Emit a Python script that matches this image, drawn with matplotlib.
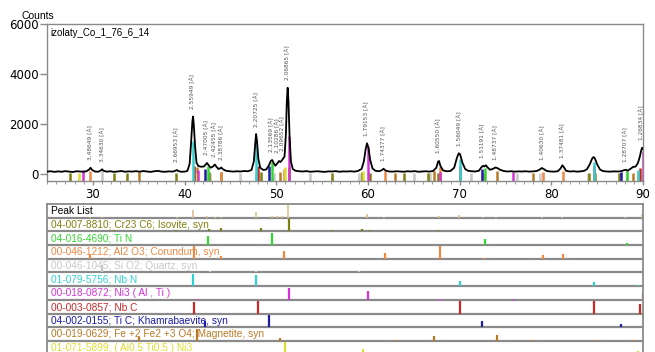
import matplotlib
matplotlib.use('Agg')
import matplotlib.pyplot as plt
from matplotlib.ticker import MultipleLocator

two_theta = [25.0, 25.4, 25.8, 26.2, 26.6, 27.0, 27.4, 27.8, 28.2, 28.6, 29.0, 29.3, 29.6, 29.75, 29.9,
             30.2, 30.6, 30.85, 31.0, 31.15, 31.5, 31.9, 32.3, 32.7, 33.1, 33.5, 33.9, 34.3, 34.7, 35.1,
             35.5, 35.9, 36.3, 36.7, 37.1, 37.5, 37.9, 38.3, 38.7, 39.0, 39.15, 39.3, 39.6, 40.0, 40.3,
             40.55, 40.7, 40.85, 40.92, 41.0, 41.15, 41.3, 41.5, 41.8, 42.1, 42.3, 42.45, 42.6, 42.85, 43.1,
             43.3, 43.45, 43.7, 43.9, 44.0, 44.15, 44.5, 44.9, 45.3, 45.7, 46.1, 46.5, 46.9, 47.3, 47.55,
             47.7, 47.8, 47.9, 48.05, 48.25, 48.6, 48.9, 49.2, 49.4, 49.55, 49.7, 49.9, 50.1, 50.3, 50.45,
             50.6, 50.75, 50.9, 51.05, 51.15, 51.24, 51.33, 51.45, 51.6, 51.8, 52.1, 52.5, 52.9, 53.3, 53.7,
             54.1, 54.5, 54.9, 55.3, 55.7, 56.1, 56.5, 56.9, 57.3, 57.7, 58.1, 58.5, 58.9, 59.3, 59.55,
             59.75, 59.9, 60.05, 60.25, 60.5, 60.8, 61.2, 61.5, 61.7, 61.9, 62.3, 62.7, 63.1, 63.5, 63.9,
             64.3, 64.7, 65.1, 65.5, 65.9, 66.3, 66.7, 67.1, 67.45, 67.65, 67.75, 67.9, 68.2, 68.6, 69.0,
             69.4, 69.7, 69.9, 70.05, 70.3, 70.6, 70.9, 71.3, 71.7, 72.1, 72.35, 72.55, 72.7, 72.85, 73.0,
             73.3, 73.6, 73.9, 74.1, 74.4, 74.8, 75.2, 75.6, 76.0, 76.4, 76.8, 77.2, 77.6, 78.0, 78.4,
             78.7, 78.95, 79.2, 79.5, 79.9, 80.3, 80.7, 81.0, 81.2, 81.35, 81.6, 82.0, 82.4, 82.8, 83.2,
             83.6, 83.9, 84.2, 84.45, 84.6, 84.75, 85.0, 85.3, 85.6, 86.0, 86.4, 86.8, 87.2, 87.6, 87.9,
             88.1, 88.3, 88.6, 88.9, 89.2, 89.45, 89.65, 89.8, 89.9, 90.0]
counts = [95, 110, 85, 105, 90, 115, 95, 80, 110, 100, 90, 110, 180, 250, 170,
          100, 90, 140, 190, 130, 95, 110, 85, 100, 120, 90, 105, 95, 115, 90,
          120, 100, 85, 110, 125, 95, 90, 105, 95, 130, 160, 120, 90, 95, 120,
          400, 1200, 2100, 2300, 2000, 1100, 450, 320, 290, 300, 380, 440, 360, 250, 300,
          380, 300, 200, 230, 260, 200, 130, 110, 95, 110, 100, 120, 110, 160, 500,
          1200, 1600, 1300, 600, 250, 160, 180, 350, 520, 560, 450, 330, 420, 520, 480,
          540, 620, 700, 1600, 2900, 3450, 2900, 1500, 500, 200, 130, 110, 100, 115, 90,
          100, 110, 95, 85, 105, 100, 115, 90, 105, 100, 110, 95, 120, 200, 500,
          1000, 1230, 1050, 550, 220, 130, 110, 150, 210, 140, 100, 95, 110, 100, 90,
          110, 100, 115, 90, 100, 110, 95, 120, 250, 500, 520, 320, 140, 110, 120,
          250, 650, 830, 780, 450, 200, 130, 110, 100, 130, 260, 330, 300, 350, 280,
          170, 200, 260, 240, 170, 120, 100, 110, 95, 105, 100, 110, 95, 105, 120,
          170, 240, 190, 120, 100, 95, 110, 220, 350, 280, 130, 100, 110, 95, 105,
          130, 200, 400, 620, 680, 620, 380, 180, 120, 100, 95, 105, 100, 110, 150,
          170, 130, 200, 280, 300, 450, 700, 950, 1050, 1000]

# labelled peaks
peak_pos = [29.73, 31.01, 39.15, 40.91, 42.46, 43.30, 44.00, 47.81, 49.52, 50.10, 50.65,
            51.24, 59.90, 61.72, 67.72, 69.95, 72.54, 73.94, 79.00, 81.18, 88.06, 89.85]
peak_d = ['3.48649', '3.34630', '2.66953', '2.55949', '2.47005', '2.42455', '2.38786',
          '2.20725', '2.13569', '2.10286', '2.09652', '2.06865', '1.79153', '1.74377',
          '1.60550', '1.56049', '1.51191', '1.48737', '1.40630', '1.37481', '1.28707', '1.26834']
peak_h = [250, 190, 160, 2300, 440, 380, 260, 1600, 560, 520, 620,
          3450, 1230, 210, 520, 830, 330, 260, 240, 350, 170, 1050]

# reference patterns: names, stick positions and relative intensities
phase_names = ['04-007-8810; Cr23 C6; Isovite, syn',
               '04-016-4690; Ti N',
               '00-046-1212; Al2 O3; Corundum, syn',
               '00-046-1045; Si O2; Quartz, syn',
               '01-079-5756; Nb N',
               '00-018-0872; Ni3 ( Al , Ti )',
               '00-003-0857; Nb C',
               '04-002-0155; Ti C; Khamrabaevite, syn',
               '00-019-0629; Fe +2 Fe2 +3 O4; Magnetite, syn',
               '01-071-5899; ( Al0.5 Ti0.5 ) Ni3']
cr23c6_pos = [27.5, 32.3, 33.7, 39.1, 42.7, 44.0, 48.3, 51.4, 56.1, 59.3, 60.2, 63.9, 66.5, 67.6, 84.1, 87.4]
cr23c6_int = [5, 8, 6, 15, 20, 25, 25, 100, 15, 20, 10, 5, 5, 8, 5, 5]
tin_pos = [42.5, 49.5, 72.8, 88.3]
tin_int = [70, 100, 50, 20]
al2o3_pos = [29.7, 41.0, 44.0, 50.8, 61.9, 67.9, 72.6, 79.1, 81.3]
al2o3_int = [35, 100, 20, 65, 45, 100, 8, 30, 35]
sio2_pos = [31.0, 42.8, 46.0, 47.8, 49.7, 53.7, 59.0, 65.0, 66.8, 71.2, 76.3, 78.8, 84.0, 88.3]
sio2_int = [60, 10, 8, 10, 6, 8, 10, 5, 5, 6, 5, 5, 5, 5]
nbn_pos = [40.9, 47.8, 70.0, 84.6, 89.4]
nbn_int = [100, 90, 45, 35, 12]
ni3alti_pos = [28.9, 41.5, 51.4, 60.0, 67.9, 75.8, 90.0]
ni3alti_int = [8, 8, 100, 70, 5, 5, 60]
nbc_pos = [41.0, 48.0, 70.0, 84.6, 89.7]
nbc_int = [95, 100, 100, 100, 75]
tic_pos = [42.2, 49.2, 72.4, 87.6]
tic_int = [55, 100, 55, 25]
fe3o4_pos = [35.0, 41.4, 50.4, 62.9, 67.2, 74.1, 78.0, 84.8, 88.9]
fe3o4_int = [30, 100, 25, 8, 40, 45, 5, 6, 12]
alti_ni3_pos = [28.5, 41.2, 50.9, 59.5, 89.4]
alti_ni3_int = [8, 15, 100, 45, 30]

phase_pos = [cr23c6_pos, tin_pos, al2o3_pos, sio2_pos, nbn_pos, ni3alti_pos, nbc_pos, tic_pos, fe3o4_pos, alti_ni3_pos]
phase_int = [cr23c6_int, tin_int, al2o3_int, sio2_int, nbn_int, ni3alti_int, nbc_int, tic_int, fe3o4_int, alti_ni3_int]
phase_colors = ['#7f7f10', '#33d633', '#ee8844', '#c8c8c8', '#33d0d0', '#d633d6', '#c82828', '#1c1ca8', '#b87a28', '#dede30']
# stick height (counts) at 100 % in the pattern view
top_scale = [250, 450, 250, 150, 1300, 1500, 300, 300, 250, 250]

spine_col = '#8a8a8a'
ymin = -280

fig = plt.figure(figsize=(6.55, 3.52), dpi=100)
ax = fig.add_axes([0.0718, 0.4858, 0.910, 0.446])

# reference sticks under the pattern, big ones last
order = sorted(range(len(phase_names)), key=lambda k: top_scale[k])
for k in order:
    tops = [20 + v / 100 * top_scale[k] for v in phase_int[k]]
    ax.vlines(phase_pos[k], ymin, tops, color=phase_colors[k], lw=1.8, zorder=1)

ax.plot(two_theta, counts, color='black', lw=1.3, zorder=3)

for p, d, h in zip(peak_pos, peak_d, peak_h):
    ax.text(p, h + 300, d + ' [Å]', rotation=90, ha='center', va='bottom',
            fontsize=4.2, color='#555555', zorder=4)

ax.set_xlim(25, 90)
ax.set_ylim(ymin, 6000)
ax.set_yticks([0, 2000, 4000, 6000])
ax.xaxis.set_major_locator(MultipleLocator(10))
ax.xaxis.set_minor_locator(MultipleLocator(1))
ax.tick_params(axis='both', labelsize=8.5, color=spine_col, length=5, width=1, pad=1)
ax.tick_params(axis='x', which='major', length=3, pad=2)
ax.tick_params(axis='x', which='minor', length=2, color=spine_col)
ax.set_xticks([30, 40, 50, 60, 70, 80, 90])
for s in ax.spines.values():
    s.set_color(spine_col)
    s.set_linewidth(1.0)
ax.text(-0.042, 1.02, 'Counts', transform=ax.transAxes, fontsize=7.5,
        family='Liberation Sans', ha='left', va='bottom')
ax.text(0.006, 0.975, 'izolaty_Co_1_76_6_14', transform=ax.transAxes, fontsize=7,
        family='Liberation Sans', ha='left', va='top')

# lower panel: peak list and reference patterns
ax2 = fig.add_axes([0.0718, -0.0077, 0.910, 0.4282])
ax2.set_xlim(25, 90)
ax2.set_ylim(len(phase_names) + 1, 0)
ax2.set_xticks([])
ax2.set_yticks([])
for s in ax2.spines.values():
    s.set_color(spine_col)
    s.set_linewidth(1.3)
for i in range(1, len(phase_names) + 1):
    ax2.axhline(i, color=spine_col, lw=1.6, zorder=1)

peak_max = max(peak_h)
list_rel = [(h - 100) / (peak_max - 100) for h in peak_h]
ax2.vlines(peak_pos, 1, [1 - r * 0.9 for r in list_rel], color='#dcc08f', lw=1.2, zorder=2)
ax2.text(25.4, 0.52, 'Peak List', fontsize=7.3, family='Liberation Sans', color='black',
         ha='left', va='center')

for k, name in enumerate(phase_names):
    row = k + 1
    ax2.vlines(phase_pos[k], row + 1, [row + 1 - v / 100 * 0.9 for v in phase_int[k]],
               color=phase_colors[k], lw=1.6, zorder=2)
    ax2.text(25.4, row + 0.52, name, fontsize=7.3, family='Liberation Sans',
             color=phase_colors[k], ha='left', va='center', zorder=3)

fig.savefig('out.png', dpi=100)
